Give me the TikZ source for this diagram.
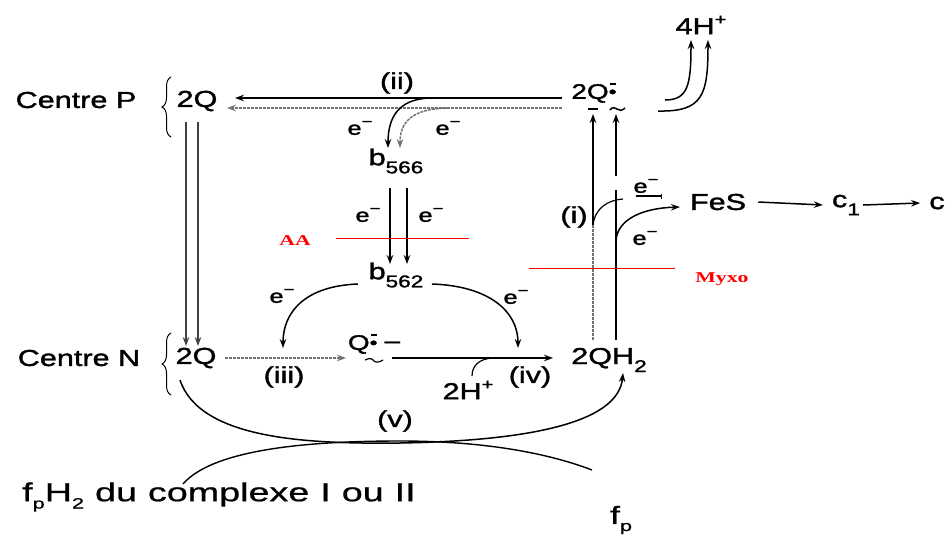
\documentclass[tikz,border=0pt]{standalone}
\usepackage{fontspec}
\setmainfont{Liberation Sans}[FakeStretch=1.33,FakeBold=1.6]
\newfontfamily\widefont{Liberation Sans}[FakeStretch=1.45,FakeBold=0.8]
\newfontfamily\redfont{Liberation Serif}[FakeStretch=1.45]
\usetikzlibrary{arrows.meta,decorations.pathreplacing}
\newcommand\supm{\raisebox{0.45em}{\fontsize{14}{14}\selectfont −}}
\newcommand\supp{\raisebox{0.42em}{\fontsize{15}{15}\selectfont +}}
\newcommand\subs[1]{\raisebox{-0.35em}{\fontsize{17}{17}\selectfont #1}}
\newcommand\subsm[1]{\raisebox{-0.28em}{\fontsize{15}{15}\selectfont #1}}
\newcommand\rad{\rlap{\kern1pt\raisebox{0.68em}{\rule{6pt}{1.3pt}}}\raisebox{0.06em}{\fontsize{17}{17}\selectfont •}}
\begin{document}
\begin{tikzpicture}[x=1pt,y=-1pt,
  txt/.style={inner sep=0pt, font=\fontsize{23}{27}\selectfont},
  smtxt/.style={inner sep=0pt, font=\fontsize{21}{25}\selectfont},
  elab/.style={inner sep=0pt, font=\fontsize{19}{22}\selectfont},
  redlab/.style={inner sep=0pt, text=red, font=\redfont\bfseries\fontsize{15}{17}\selectfont},
  arr/.style={-{Stealth[length=9pt,width=6.5pt]}, line width=1.5pt},
  lthin/.style={line width=1.2pt},
  faint/.style={black!55, dash pattern=on 3pt off 1pt},
  redline/.style={red, line width=0.9pt},
  brc/.style={decorate, decoration={brace, amplitude=9pt}, line width=1pt}
]
\useasboundingbox (0,0) rectangle (952,538);

% ---------- nodes ----------
\node[txt] (cenP) at (76,100) {Centre P};
\node[txt] (QP) at (197,101) {2Q};
\node[txt] (cenN) at (79,358) {Centre N};
\node[txt] (QN) at (196,358) {2Q};
\node[smtxt] (Qtop) at (594,93) {2Q\rad};
\node[txt] (H4) at (701,25) {4H\supp};
\node[txt] (b566) at (396,161) {b\subs{566}};
\node[txt] (b562) at (396,275) {b\subs{562}};
\node[smtxt] (Qm) at (374,344) {Q\rad\hspace{7pt}\raisebox{0.1em}{–}};
\node[txt] (QH2) at (609,360) {2QH\subs{2}};
\node[txt] (FeS) at (718,202) {FeS};
\node[txt] (c1) at (846,205) {c\subs{1}};
\node[txt] (c) at (937,203) {c};
\node[txt, anchor=west, font=\widefont\fontsize{26}{30}\selectfont] (fpH2) at (22,497) {\spaceskip=11pt f\subsm{p}H\subsm{2} du complexe I ou II};
\node[txt, font=\widefont\fontsize{25}{29}\selectfont] (fp) at (621,520) {f\subsm{p}};

% labels
\node[txt] (lii) at (397,83) {(ii)};
\node[txt] (li) at (574,217) {(i)};
\node[txt] (liii) at (284,377) {(iii)};
\node[txt] (liv) at (530,377) {(iv)};
\node[txt] (lv) at (395,421) {(v)};
\node[txt] (H2p) at (468,390) {2H\supp};
\node[elab] (e1) at (360,128) {e\supm};
\node[elab] (e2) at (448,128) {e\supm};
\node[elab] (e3) at (368,215) {e\supm};
\node[elab] (e4) at (431,215) {e\supm};
\node[elab] (e5) at (282,296) {e\supm};
\node[elab] (e6) at (516,297) {e\supm};
\node[elab] (e7) at (646,186) {e\supm};
\node[elab] (e8) at (645,238) {e\supm};
\node[redlab] (AA) at (295,241) {AA};
\node[redlab] (Myxo) at (722,279) {Myxo};

% ---------- braces ----------
\draw[brc] (171,137) -- (171,77);
\draw[brc] (171,395) -- (171,333);

% ---------- coordinates ----------
\coordinate (tA) at (562,98);
\coordinate (tB) at (235,98);
\coordinate (tC) at (562,108);
\coordinate (tD) at (227,108);

% ---------- top arrows (ii) ----------
\draw[arr, line width=1.9pt] (tA) -- (tB);
\draw[arr, faint] (tC) -- (tD);
\draw[arr] (430,98) .. controls (398,99) and (388,118) .. (388,148);
\draw[arr, faint] (447,108) .. controls (412,109) and (400,122) .. (400,148);

% b566 -> b562
\draw[arr] (390,188) -- (390,264);
\draw[arr] (407,188) -- (407,264);
\draw[redline] (336,238) -- (469,238);

% 2Q(P) -> 2Q(N)
\draw[arr, black!75] (186,122) -- (186,346);
\draw[arr, black!75] (198,122) -- (198,346);

% b562 -> Q branches
\draw[arr] (358,284) .. controls (305,286) and (283,312) .. (283,348);
\draw[arr] (432,284) .. controls (490,286) and (518,312) .. (518,348);

% (iii) and (iv)
\draw[arr, faint] (225,358) -- (346,358);
\draw[arr] (392,358) -- (553,358);
\draw[lthin] (365,360) .. controls (369,358) and (372,358) .. (374,361) .. controls (376,363) and (380,362) .. (383,360);
\draw[lthin] (472,376) .. controls (472,365) and (480,359) .. (492,358);

% (v)
\draw[arr] (180,380) .. controls (200,440) and (310,444) .. (400,443) .. controls (520,441) and (618,425) .. (623,373);
\draw[line width=1.4pt] (183,484) .. controls (215,447) and (320,441) .. (400,441) .. controls (480,441) and (545,452) .. (592,470);

% QH2 -> Q top (i)
\draw[faint, line width=1.4pt] (593,340) -- (593,225);
\draw[arr] (593,225) -- (593,114);
\draw[line width=1.5pt] (616,340) -- (616,190);
\draw[arr] (616,176) -- (616,114);
\draw[line width=1.5pt] (588,109) -- (598,109);
\draw[line width=1.5pt] (610,110) .. controls (612,107) and (615,107) .. (617,109) .. controls (619,111) and (622,111) .. (625,108);
\draw[lthin] (593,225) .. controls (595,208) and (608,200) .. (623,199);
\draw[lthin, -{Bar[width=5pt]}] (636,196) -- (662,196);
\draw[arr] (616,240) .. controls (618,218) and (645,208) .. (680,207);
\draw[redline] (529,268) -- (675,268);

% FeS chain
\draw[arr] ([xshift=12pt]FeS.east) -- ([xshift=-9pt]c1.west);
\draw[arr] ([xshift=3pt]c1.east) -- ([xshift=-9pt]c.west);

% 4H+
\draw[arr] (665,100) .. controls (688,100) and (691,85) .. (691,40);
\draw[arr] (658,111) .. controls (703,112) and (708,95) .. (708,40);
\end{tikzpicture}
\end{document}
